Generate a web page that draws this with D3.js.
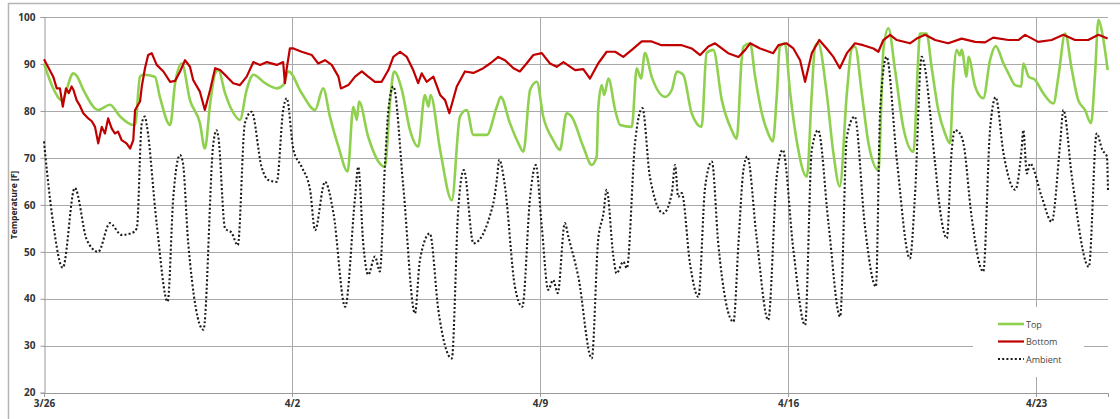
<!DOCTYPE html>
<html>
<head>
<meta charset="utf-8">
<script src="https://cdn.jsdelivr.net/npm/d3@7"></script>
<style>
  html, body { margin: 0; padding: 0; background: #fff; }
  svg { display: block; font-family: "Open Sans", "Liberation Sans", Arial, sans-serif; }
</style>
</head>
<body>
<svg id="chart" width="1120" height="419"></svg>
<script>
// ---- data (days since 3/26, temperature in F) ----
const seriesNames = ["Top", "Bottom", "Ambient"];
const xTickLabels = ["3/26", "4/2", "4/9", "4/16", "4/23"];
const yTickValues = [20, 30, 40, 50, 60, 70, 80, 90, 100];

const topDay = [0,0.26,0.5,0.83,0.92,1.11,1.53,1.86,2.15,2.52,2.57,2.71,2.8,3.13,3.27,3.56,3.7,3.89,4.12,4.4,4.54,4.69,4.83,4.92,5.11,5.3,5.53,5.72,5.91,6.24,6.57,6.75,6.9,7.27,7.65,7.88,8.07,8.31,8.57,8.73,8.83,8.89,9.15,9.44,9.62,9.77,9.88,10.1,10.33,10.56,10.75,10.85,10.91,11.18,11.51,11.74,11.93,12.12,12.5,12.78,12.89,13.15,13.39,13.53,13.72,13.91,14.09,14.37,14.56,14.75,14.89,15.22,15.46,15.6,15.64,15.74,15.81,15.93,16.12,16.26,16.59,16.73,16.85,16.96,17.15,17.53,17.72,17.86,18.04,18.28,18.56,18.7,18.89,19.13,19.41,19.55,19.69,19.74,19.93,20.07,20.26,20.44,20.57,20.68,20.77,20.91,21.06,21.24,21.53,21.67,21.76,21.85,22.09,22.28,22.46,22.66,22.8,22.89,23.08,23.27,23.55,23.69,23.83,24.02,24.25,24.54,24.67,24.72,24.91,25.05,25.24,25.43,25.57,25.66,25.76,25.85,25.9,26.04,26.09,26.28,26.51,26.7,26.86,27.08,27.22,27.41,27.58,27.64,27.79,27.97,28.2,28.49,28.63,28.82,29.01,29.19,29.38,29.55,29.66,29.76,29.87,30.02];
const topTemp = [90.1,84.8,82.3,88,87.5,84.5,80.2,81.3,78.8,77,77,87.3,87.7,87.3,83,77,85.9,90.1,82.3,77.4,72,81.6,88,88.7,83.8,80.2,78.1,84.5,87.7,85.9,84.8,85.5,88.4,83.8,80.2,84.8,78.8,72.4,67.1,80.9,78.1,82,74.5,69.2,68.1,82.3,88.4,84.5,75.9,72.4,83.4,80.9,83.4,71.7,61,78.8,80.2,74.9,74.9,80.9,83,77.4,73.1,71.3,84.5,86.2,78.8,73.8,71.7,79.5,78.8,72.4,68.5,70.3,80.2,85.5,83.4,86.9,80.2,77,76.6,89.1,86.9,92.3,87.3,83,84.5,88.4,87.7,79.5,76.6,92.3,93,82.3,75.9,74.1,90.8,93.7,94.4,87.3,79.5,75.2,73.5,83,93.7,94.4,83.8,73.8,66,83.8,93.7,94.4,83.8,71,63.9,83.8,93.3,93.7,83.8,73.1,67.4,93,97.6,88.7,76.6,71.3,90.8,96.5,96.5,89.4,80.2,75.2,73.1,85.9,93,91.8,93,87.3,91.5,85.2,82.7,90.8,93.8,90.1,88,85.5,85.2,90.1,87.3,86.6,83.8,81.6,87.3,96.5,88.7,82.3,80.2,77.4,87.3,99.4,96.5,88.7];

const bottomDay = [0,0.26,0.36,0.45,0.53,0.62,0.7,0.78,0.83,0.92,1,1.11,1.25,1.35,1.44,1.53,1.63,1.72,1.81,1.91,2,2.09,2.19,2.33,2.43,2.52,2.57,2.71,2.76,2.85,2.94,3.04,3.18,3.37,3.56,3.7,3.84,3.98,4.12,4.21,4.4,4.54,4.69,4.83,4.97,5.16,5.34,5.53,5.72,5.91,6.1,6.29,6.57,6.75,6.8,6.85,6.94,7.04,7.27,7.56,7.74,7.93,8.12,8.31,8.38,8.59,8.78,8.97,9.15,9.34,9.53,9.72,9.86,10.05,10.24,10.42,10.56,10.66,10.8,10.99,11.18,11.32,11.44,11.65,11.88,12.12,12.4,12.59,12.82,13.01,13.25,13.43,13.62,13.81,14.05,14.28,14.47,14.66,14.99,15.22,15.41,15.64,15.88,16.12,16.35,16.59,16.87,17.15,17.43,17.72,18,18.28,18.52,18.75,18.94,19.13,19.31,19.6,19.79,19.93,20.21,20.58,20.73,20.96,21.15,21.34,21.48,21.67,21.88,22.09,22.28,22.46,22.66,22.89,23.12,23.41,23.55,23.69,23.88,24.07,24.44,24.63,24.87,25.15,25.52,25.9,26.28,26.56,26.79,27.22,27.5,27.69,28.06,28.44,28.77,29.1,29.47,29.76,30.02];
const bottomTemp = [91,87.3,84.8,84.8,80.9,84.8,83.8,85.2,84.5,82.3,81.3,79.5,78.4,77.8,76.6,73.1,76.6,75.2,78.4,76.3,75.2,75.6,73.8,73.1,72,73.8,80.2,82,85.2,89.1,91.9,92.3,89.8,88.4,86.2,86.4,88.4,90.8,89.4,86.6,84.1,80.2,84.5,89.1,88.7,87.3,85.9,85.5,87.3,90.4,89.8,90.4,89.8,90.4,85.9,89,93.3,93.3,92.6,91.9,90.1,90.8,89.8,87.3,84.8,85.5,87.3,88.4,87.3,86.2,86.2,88.7,91.5,92.6,91.5,88.7,85.9,88,86.2,87.3,83.4,82.3,79.5,85.2,88.4,88.1,89.1,90.1,91.5,90.8,89.1,88.4,90.1,91.9,92.3,90.1,89.4,90.4,88.7,88.9,86.9,90.1,92.6,92.6,91.5,93,94.8,94.8,94,94,94,93.3,91.9,93.7,94.4,93.3,92.3,91.5,93,94.4,93.3,92.3,94,94.4,93.3,90.8,86.2,92.3,95.1,93.3,91.5,89.1,92.3,94.4,94,93.3,92.6,95.1,96.2,95.1,94.4,95.4,96.2,95.1,94.4,95.4,94.7,94.6,95.6,95.1,95.1,96.2,94.7,95.1,96.2,95.1,95.1,96.2,95.4];

const ambientDay = [0,0.08,0.26,0.53,0.87,1.21,1.53,1.86,2.19,2.48,2.62,2.76,2.85,2.9,3.18,3.49,3.65,3.84,3.92,4.07,4.5,4.78,4.87,4.92,5.11,5.3,5.47,5.67,5.86,6.14,6.33,6.57,6.75,6.85,7.04,7.27,7.51,7.65,7.93,8.17,8.5,8.78,8.87,9.01,9.15,9.34,9.48,9.62,9.72,9.86,10.14,10.47,10.61,10.89,11.13,11.51,11.69,11.85,12.12,12.68,12.78,12.85,13.01,13.29,13.5,13.72,13.88,14.05,14.23,14.37,14.5,14.7,14.8,15.08,15.46,15.64,15.79,15.88,16.07,16.16,16.35,16.45,16.68,16.89,17.1,17.48,17.72,17.81,17.9,18,18.23,18.47,18.66,18.85,19.03,19.46,19.6,19.74,19.85,20.11,20.44,20.68,20.85,21.15,21.48,21.67,21.85,22.14,22.47,22.66,22.88,23.17,23.48,23.6,23.78,24.07,24.44,24.58,24.77,25.15,25.29,25.48,25.62,25.71,25.85,25.95,26.18,26.51,26.7,26.86,27.08,27.41,27.59,27.64,27.74,27.83,28.16,28.44,28.68,28.77,29.01,29.49,29.71,29.87,30,30.03];
const ambientTemp = [73.5,67.4,56,46.6,63.6,52.5,50,56.1,53.6,54,55,77.4,78.8,77,56,39.4,61.7,70.6,69,51.9,33.4,73.1,75.9,74.5,55,54,51.4,77.4,79.8,68.1,65.3,64.9,80.2,82.7,71.7,68.1,63.2,54.6,64.9,58.2,38.3,61.7,68.1,51.8,45.1,49,45.8,68.1,80.2,85.2,63.9,36.9,48.3,53.9,37.6,27.3,58.9,67.4,51.8,60.3,65.3,69.6,63.9,42.6,38.3,61.7,68.5,55.3,41.9,44,41.2,56.1,53.2,44.7,27.3,52.5,58.2,63.2,49,45.4,47.9,46.5,73.1,80.6,66,58.2,62.5,68.5,61.7,62.5,47.6,40.4,63.9,69.2,51.8,35.1,51.8,67.4,70.3,53.2,35.5,66,71.7,50.4,34.4,71.7,75.9,56.1,36.2,74.5,78.8,55.4,42.6,80.2,91.5,69.6,48.6,61.7,91.5,68.8,58.9,52.9,71.7,75.9,75.2,73.1,57.5,45.8,75.9,82.9,71,63.2,71.7,75.9,66.7,68.8,61.7,56.4,73.1,80.2,66,46.8,75.2,71.7,70.3,63];

// ---- layout ----
const svg = d3.select("#chart");
const DAY = 86400000;
const t0 = Date.UTC(2013, 2, 26);
const toDate = d => new Date(t0 + d * DAY);

const x = d3.scaleUtc()
  .domain([toDate(0), toDate(30.03)])
  .range([44, 1108]);
const y = d3.scaleLinear().domain([20, 100]).range([392.7, 17]);

// outer frame
svg.append("rect")
  .attr("x", 8.5).attr("y", 3.5).attr("width", 1120).attr("height", 430)
  .attr("fill", "#fff").attr("stroke", "#b5b5b5").attr("stroke-width", 1.5);

const tickDates = xTickLabels.map((_, i) => toDate(i * 7));

// horizontal grid
svg.append("g")
  .selectAll("line")
  .data(yTickValues.filter(v => v > 20))
  .join("line")
  .attr("x1", 44).attr("x2", 1108)
  .attr("y1", d => Math.round(y(d)) + 0.5).attr("y2", d => Math.round(y(d)) + 0.5)
  .attr("stroke", "#a9a9a9").attr("stroke-width", 1);

// vertical grid
svg.append("g")
  .selectAll("line")
  .data(tickDates.slice(1))
  .join("line")
  .attr("x1", d => Math.round(x(d)) + 0.5).attr("x2", d => Math.round(x(d)) + 0.5)
  .attr("y1", 17).attr("y2", 393)
  .attr("stroke", "#a9a9a9").attr("stroke-width", 1);

// axes
const yAxis = d3.axisLeft(y).tickValues(yTickValues).tickSize(4).tickPadding(5).tickFormat(d3.format("d"));
const gy = svg.append("g").attr("transform", "translate(44.5,0)").call(yAxis);
gy.select(".domain").attr("stroke", "#999");
gy.selectAll(".tick line").attr("stroke", "#999");
gy.selectAll(".tick text")
  .attr("fill", "#333").attr("font-size", 10).attr("font-weight", "bold")
  .attr("font-family", "'Open Sans', 'Liberation Sans', sans-serif");

const xAxis = d3.axisBottom(x).tickValues(tickDates)
  .tickFormat((d, i) => xTickLabels[i]).tickSize(4).tickPadding(3);
const gx = svg.append("g").attr("transform", "translate(0,393)").call(xAxis);
gx.select(".domain").attr("stroke", "#999");
gx.selectAll(".tick line").attr("stroke", "#999");
gx.selectAll(".tick text")
  .attr("fill", "#333").attr("font-size", 10).attr("font-weight", "bold")
  .attr("font-family", "'Open Sans', 'Liberation Sans', sans-serif");

// y axis title
svg.append("text")
  .attr("transform", "translate(17,205) rotate(-90)")
  .attr("text-anchor", "middle")
  .attr("font-size", 8.5).attr("font-weight", "bold").attr("fill", "#222")
  .text("Temperature [F]");

// lines
const mk = (days, temps) => days.map((d, i) => ({ date: toDate(d), v: temps[i] }));
const smooth = d3.line().x(d => x(d.date)).y(d => y(d.v)).curve(d3.curveMonotoneX);
const straight = d3.line().x(d => x(d.date)).y(d => y(d.v)).curve(d3.curveLinear);

svg.append("path").datum(mk(topDay, topTemp))
  .attr("d", smooth).attr("fill", "none")
  .attr("stroke", "#8fd14f").attr("stroke-width", 2.6).attr("stroke-linejoin", "round");

svg.append("path").datum(mk(bottomDay, bottomTemp))
  .attr("d", straight).attr("fill", "none")
  .attr("stroke", "#c00000").attr("stroke-width", 2.2).attr("stroke-linejoin", "round");

svg.append("path").datum(mk(ambientDay, ambientTemp))
  .attr("d", smooth).attr("fill", "none")
  .attr("stroke", "#1a1a1a").attr("stroke-width", 2.1).attr("stroke-dasharray", "2,2.2");

// legend
const lg = svg.append("g");
lg.append("rect").attr("x", 973).attr("y", 307).attr("width", 111).attr("height", 70).attr("fill", "#fff");
const legendStyles = [
  { stroke: "#8fd14f", w: 2.6, dash: null },
  { stroke: "#c00000", w: 2.2, dash: null },
  { stroke: "#1a1a1a", w: 2.1, dash: "2,2.2" }
];
seriesNames.forEach((name, i) => {
  const yy = 324 + i * 17.5;
  const s = legendStyles[i];
  const l = lg.append("line").attr("x1", 998).attr("x2", 1024).attr("y1", yy).attr("y2", yy)
    .attr("stroke", s.stroke).attr("stroke-width", s.w);
  if (s.dash) l.attr("stroke-dasharray", s.dash);
  lg.append("text").attr("x", 1026).attr("y", yy + 3.5)
    .attr("font-size", 9).attr("fill", "#444")
    .attr("font-family", "'Open Sans', 'Liberation Sans', sans-serif")
    .text(name);
});
</script>
</body>
</html>
